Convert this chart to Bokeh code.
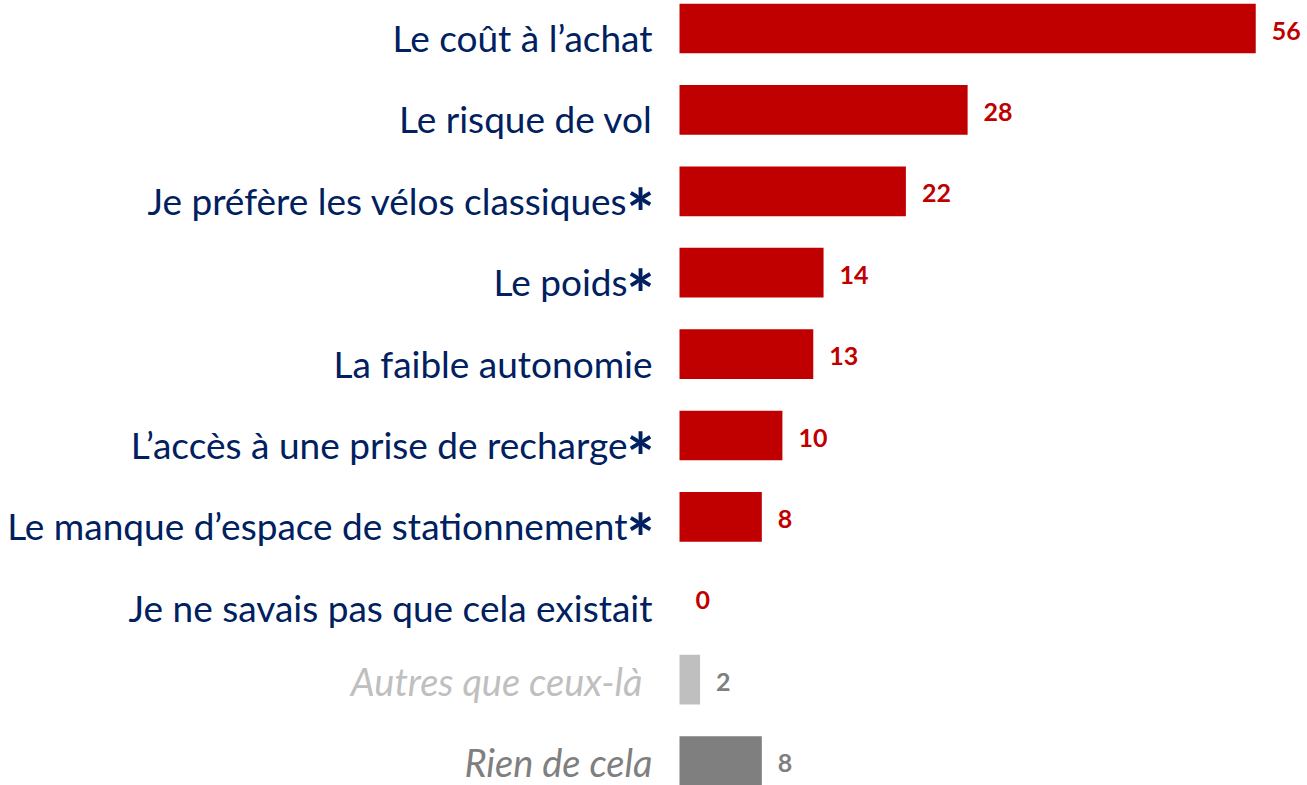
from bokeh.plotting import figure
from bokeh.models import ColumnDataSource, Range1d
from bokeh.core.properties import value
from bokeh.embed import file_html
from bokeh.resources import INLINE

categories = [
    "Le coût à l’achat",
    "Le risque de vol",
    "Je préfère les vélos classiques",
    "Le poids",
    "La faible autonomie",
    "L’accès à une prise de recharge",
    "Le manque d’espace de stationnement",
    "Je ne savais pas que cela existait",
    "Autres que ceux-là",
    "Rien de cela",
]
values = [56, 28, 22, 14, 13, 10, 8, 0, 2, 8]
starred = [False, False, True, True, False, True, True, False, False, False]
bar_colors = ["#C00000"] * 8 + ["#BFBFBF", "#7F7F7F"]
label_colors = ["#002060"] * 8 + ["#BFBFBF", "#7F7F7F"]
value_colors = ["#C00000"] * 8 + ["#7F7F7F", "#7F7F7F"]
n_main = 8  # first rows in navy, remaining rows in grey italics

W, H = 1307, 785
px_per_unit = 10.29
x0_screen = 679
row0 = 28
row_step = 81.4

ys = list(range(len(categories)))
src = ColumnDataSource(dict(
    y=ys, v=values, bc=bar_colors, vc=value_colors, vt=[str(v) for v in values],
))
main_src = ColumnDataSource(dict(
    y=ys[:n_main], cat=categories[:n_main], lc=label_colors[:n_main],
    xoff=[-27 - (25 if s else 0) for s in starred[:n_main]],
))
grey_src = ColumnDataSource(dict(
    y=ys[n_main:], cat=categories[n_main:], lc=label_colors[n_main:],
    xoff=[-37, -27],
))
star_src = ColumnDataSource(dict(
    y=[i for i, s in enumerate(starred) if s],
    t=["*" for s in starred if s],
))

p = figure(width=W, height=H, output_backend="svg", toolbar_location=None,
           x_range=Range1d(-x0_screen / px_per_unit, (W - x0_screen) / px_per_unit),
           y_range=Range1d((H - row0) / row_step, -row0 / row_step),
           min_border=0, outline_line_color=None)
p.axis.visible = False
p.grid.visible = False
p.background_fill_color = "white"
p.border_fill_color = "white"

p.hbar(y="y", left=0, right="v", height=0.61, fill_color="bc", line_color=None, source=src)

p.text(x=0, y="y", text="cat", x_offset="xoff", y_offset=9, text_align="right",
       text_baseline="alphabetic", text_color="lc", text_font=value("Lato"),
       text_font_size="37px", source=main_src)
p.text(x=0, y="y", text="cat", x_offset="xoff", y_offset=1, text_align="right",
       text_baseline="alphabetic", text_color="lc", text_font=value("Lato"),
       text_font_size="38px", text_font_style="italic", source=grey_src)
p.text(x=0, y="y", text="t", x_offset=-25, y_offset=21, text_align="right",
       text_baseline="alphabetic", text_color="#002060", text_font=value("Lato"),
       text_font_size="66px", text_font_style="bold", source=star_src)
p.text(x="v", y="y", text="vt", x_offset=16, y_offset=2, text_align="left",
       text_baseline="alphabetic", text_color="vc", text_font=value("Lato"),
       text_font_size="25px", text_font_style="bold", source=src)

open("out.html", "w").write(file_html(p, INLINE))
